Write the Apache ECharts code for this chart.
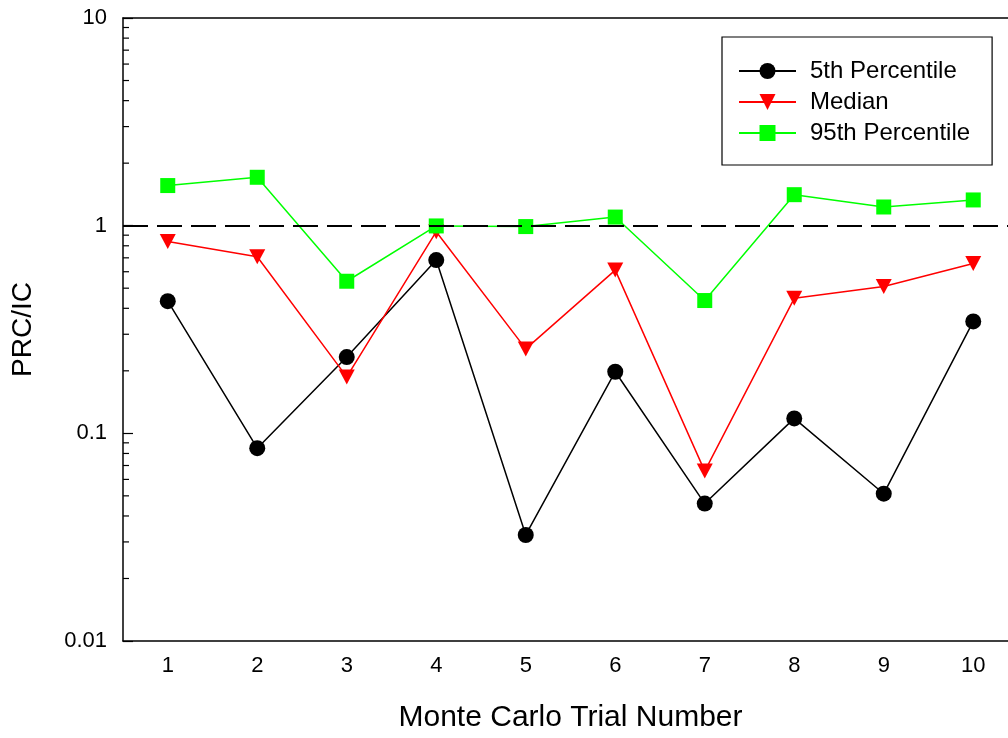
<!DOCTYPE html>
<html>
<head>
<meta charset="utf-8">
<script src="https://cdn.jsdelivr.net/npm/echarts@6/dist/echarts.min.js"></script>
<style>
  html, body { margin: 0; padding: 0; background: #fff; overflow: hidden; }
  /* the original plot runs past the right edge of the picture */
  #chart { width: 1018px; height: 738px; }
</style>
</head>
<body>
<div id="chart"></div>
<script>
  // data
  const trials = ['1', '2', '3', '4', '5', '6', '7', '8', '9', '10'];
  const p5 = [0.433, 0.0848, 0.233, 0.683, 0.0324, 0.198, 0.0459, 0.118, 0.0512, 0.346];
  const median = [0.838, 0.708, 0.187, 0.935, 0.255, 0.611, 0.0658, 0.447, 0.509, 0.658];
  const p95 = [1.56, 1.71, 0.54, 0.997, 0.99, 1.10, 0.436, 1.41, 1.23, 1.33];
  const minorTicks = [0.02, 0.03, 0.04, 0.05, 0.06, 0.07, 0.08, 0.09,
    0.2, 0.3, 0.4, 0.5, 0.6, 0.7, 0.8, 0.9, 2, 3, 4, 5, 6, 7, 8, 9];
  const refLevel = 1;

  const font = 'Liberation Sans, Arial, Helvetica, sans-serif';
  const chart = echarts.init(document.getElementById('chart'));

  const lineSeries = (name, data, color, symbol, size, rotate) => ({
    name: name,
    type: 'line',
    data: data,
    symbol: symbol,
    symbolSize: size,
    symbolRotate: rotate || 0,
    lineStyle: { color: color, width: 1.5 },
    itemStyle: { color: color },
    emphasis: { disabled: true },
  });

  const tickStyle = { color: '#000', width: 1.2 };

  const option = {
    animation: false,
    textStyle: { fontFamily: font, color: '#000' },
    grid: { left: 123, top: 18, bottom: 93, right: 0 },
    legend: {
      data: ['5th Percentile', 'Median', '95th Percentile'],
      orient: 'vertical',
      left: 722,
      top: 37,
      padding: [22, 22, 20, 16],
      itemWidth: 57,
      itemHeight: 20,
      itemGap: 7,
      borderColor: '#000',
      borderWidth: 1.2,
      backgroundColor: '#fff',
      textStyle: { fontFamily: font, fontSize: 24, color: '#000', padding: [0, 0, 0, 9] },
    },
    xAxis: [
      {
        type: 'category',
        data: trials,
        boundaryGap: true,
        name: 'Monte Carlo Trial Number',
        nameLocation: 'middle',
        nameGap: 62,
        nameTextStyle: { fontFamily: font, fontSize: 30, color: '#000' },
        axisLine: { lineStyle: { color: '#000', width: 1.5 } },
        axisTick: { inside: true, alignWithLabel: true, length: 10, lineStyle: tickStyle },
        axisLabel: { fontFamily: font, fontSize: 22, color: '#000', margin: 14 },
        splitLine: { show: false },
      },
      {
        type: 'category',
        data: trials,
        position: 'top',
        boundaryGap: true,
        axisLine: { lineStyle: { color: '#000', width: 1.5 } },
        axisTick: { inside: true, alignWithLabel: true, length: 10, lineStyle: tickStyle },
        axisLabel: { show: false },
        splitLine: { show: false },
      },
    ],
    yAxis: [
      {
        type: 'log',
        logBase: 10,
        min: 0.01,
        max: 10,
        name: 'PRC/IC',
        nameLocation: 'middle',
        nameGap: 86,
        nameTextStyle: { fontFamily: font, fontSize: 28, color: '#000' },
        axisLine: { show: true, lineStyle: { color: '#000', width: 1.5 } },
        axisTick: { show: true, inside: true, length: 10, lineStyle: tickStyle },
        axisLabel: {
          fontFamily: font, fontSize: 22, color: '#000', margin: 16,
          formatter: (v) => String(+v.toPrecision(2)),
        },
        splitLine: { show: false },
      },
      {
        type: 'log',
        logBase: 10,
        min: 0.01,
        max: 10,
        position: 'right',
        axisLine: { show: true, lineStyle: { color: '#000', width: 1.5 } },
        axisTick: { show: true, inside: true, length: 10, lineStyle: tickStyle },
        axisLabel: { show: false },
        splitLine: { show: false },
      },
    ],
    series: [
      {
        // minor log ticks, placed through the y axis scale
        type: 'custom',
        silent: true,
        clip: false,
        data: minorTicks.map((v) => [0, v]),
        renderItem: (params, api) => {
          const cs = params.coordSys;
          const y = api.coord([0, api.value(1)])[1];
          const style = { stroke: '#000', lineWidth: 1.2 };
          return {
            type: 'group',
            children: [
              { type: 'line', shape: { x1: cs.x, y1: y, x2: cs.x + 6, y2: y }, style: style },
              { type: 'line', shape: { x1: cs.x + cs.width - 6, y1: y, x2: cs.x + cs.width, y2: y }, style: style },
            ],
          };
        },
      },
      Object.assign(lineSeries('5th Percentile', p5, '#000000', 'circle', 16), {
        markLine: {
          silent: true,
          symbol: 'none',
          label: { show: false },
          lineStyle: { color: '#000', width: 2, type: [25, 9] },
          data: [{ yAxis: refLevel }],
        },
      }),
      lineSeries('Median', median, '#ff0000', 'triangle', [16, 15], 180),
      lineSeries('95th Percentile', p95, '#00ff00', 'rect', 15),
    ],
  };

  chart.setOption(option);
</script>
</body>
</html>
